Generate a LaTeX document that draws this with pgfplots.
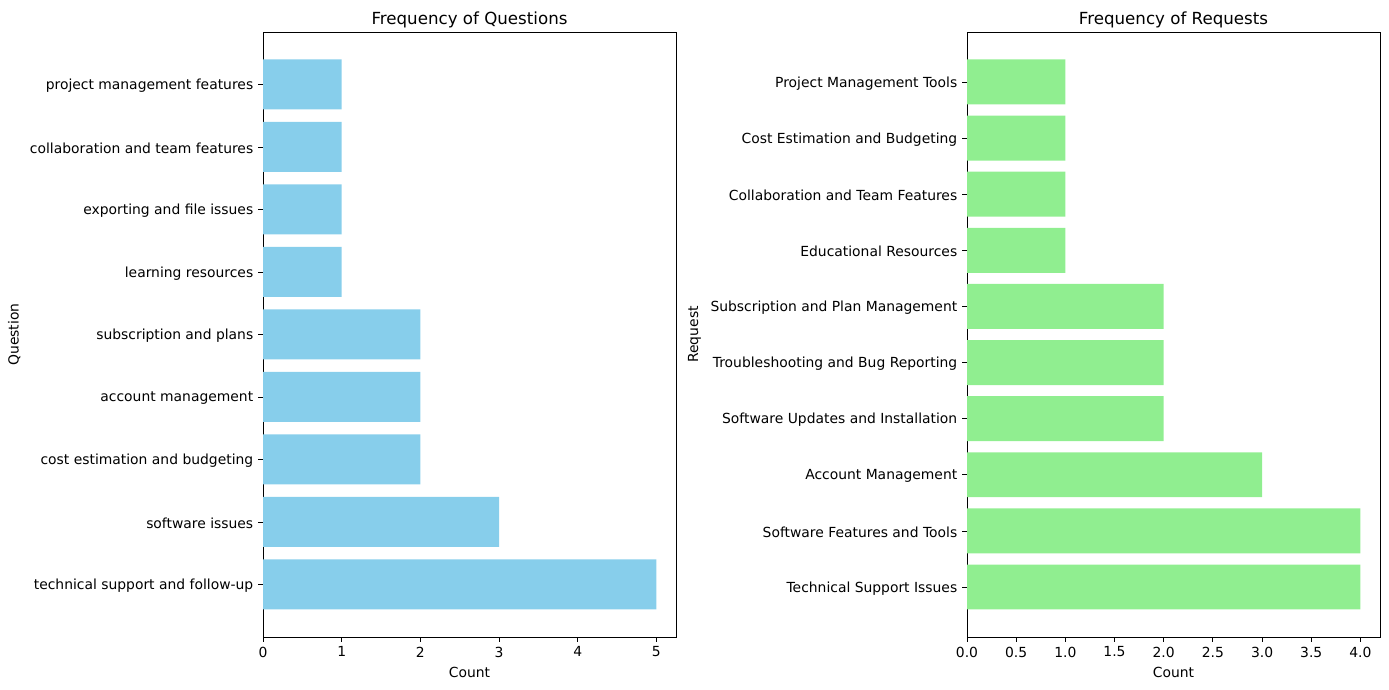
\documentclass[border=0pt]{standalone}
\usepackage{fontspec}
\setmainfont{DejaVu Sans}
\usepackage{pgfplots}
\pgfplotsset{compat=1.18}
\definecolor{skyblue}{HTML}{87CEEB}
\definecolor{lightgreen}{HTML}{90EE90}
\begin{document}
\begin{tikzpicture}
\path[use as bounding box] (0,0) rectangle (1000.08pt,496.8pt);
\pgfplotsset{
  every axis/.style={
    scale only axis,
    width=297.4pt, height=435.6pt,
    xbar, bar width=0.8,
    tick align=outside,
    xtick pos=bottom, ytick pos=left,
    major tick length=3.5pt,
    tick style={black, line width=0.6pt},
    axis line style={line width=0.6pt},
    /pgf/number format/assume math mode=true,
    ticklabel style={font=\fontsize{10}{12}\selectfont},
    yticklabel style={yshift=-1pt},
    label style={font=\fontsize{10}{12}\selectfont},
    title style={font=\fontsize{12}{14}\selectfont, yshift=-6.5pt},
    ytick=data,
    xmin=0,
  }
}
\begin{axis}[
  at={(189.36pt,38.16pt)}, anchor=south west,
  xmax=5.25, ymin=-0.84, ymax=8.84,
  xtick={0,1,2,3,4,5},
  yticklabels={technical support and follow-up, software issues, cost estimation and budgeting, account management, subscription and plans, learning resources, exporting and file issues, collaboration and team features, project management features},
  title={Frequency of Questions},
  xlabel={Count}, ylabel={Question},
]
\addplot[fill=skyblue, draw=none] coordinates {
(5,0) (3,1) (2,2) (2,3) (2,4) (1,5) (1,6) (1,7) (1,8)};
\end{axis}
\begin{axis}[
  at={(696.24pt,38.16pt)}, anchor=south west,
  xmax=4.2, ymin=-0.89, ymax=9.89,
  xtick={0,0.5,1,1.5,2,2.5,3,3.5,4},
  xticklabel style={/pgf/number format/.cd, fixed, fixed zerofill, precision=1},
  yticklabels={Technical Support Issues, Software Features and Tools, Account Management, Software Updates and Installation, Troubleshooting and Bug Reporting, Subscription and Plan Management, Educational Resources, Collaboration and Team Features, Cost Estimation and Budgeting, Project Management Tools},
  title={Frequency of Requests},
  xlabel={Count}, ylabel={Request},
]
\addplot[fill=lightgreen, draw=none] coordinates {
(4,0) (4,1) (3,2) (2,3) (2,4) (2,5) (1,6) (1,7) (1,8) (1,9)};
\end{axis}
\end{tikzpicture}
\end{document}
